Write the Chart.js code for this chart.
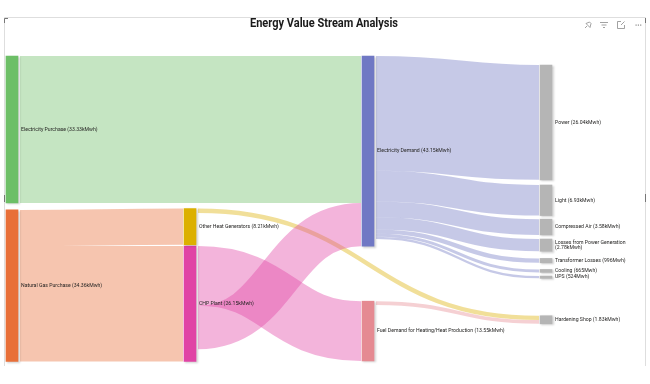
<!DOCTYPE html>
<html>
<head>
<meta charset="utf-8">
<title>Energy Value Stream Analysis</title>
<script src="https://cdn.jsdelivr.net/npm/chart.js@4"></script>
<style>
  html, body { margin: 0; padding: 0; background: #fff; }
  canvas { display: block; }
</style>
</head>
<body>
<canvas id="chart" width="650" height="384"></canvas>
<script>
const chartTitle = "Energy Value Stream Analysis";
const columns = ["Supply", "Conversion", "Demand", "End use"];

// nodes, values in kMWh
const nodeNames = ["Electricity Purchase", "Natural Gas Purchase", "Other Heat Generators", "CHP Plant",
  "Electricity Demand", "Fuel Demand for Heating/Heat Production", "Power", "Light", "Compressed Air",
  "Losses from Power Generation", "Transformer Losses", "Cooling", "UPS", "Hardening Shop"];
const nodeValues = [33.33, 34.36, 8.21, 26.15, 43.15, 13.55, 26.04, 6.93, 3.58, 2.78, 0.996, 0.665, 0.524, 1.83];
const nodeLabels = ["33.33kMwh", "34.36kMwh", "8.21kMwh", "26.15kMwh", "43.15kMwh", "13.55kMwh", "26.04kMwh",
  "6.93kMwh", "3.58kMwh", "2.78kMwh", "996Mwh", "665Mwh", "524Mwh", "1.83kMwh"];
const nodeColumns = [0, 0, 1, 1, 2, 2, 3, 3, 3, 3, 3, 3, 3, 3];

// links between nodes (index into the node lists)
const flowFrom = [0, 1, 1, 2, 3, 3, 4, 4, 4, 4, 4, 4, 4, 5];
const flowTo = [4, 2, 3, 13, 5, 4, 6, 7, 8, 9, 10, 11, 12, 13];
const flowValues = [33.33, 8.21, 26.15, 0.98, 13.55, 9.82, 26.04, 6.93, 3.58, 2.78, 0.996, 0.665, 0.524, 0.85];

const nodeStart = [0, 34.9, 34.6, 43.1, 0, 55.6, 2.04, 29.25, 37.0, 41.5, 45.9, 48.4, 49.9, 58.9];
const yMax = 69.16;

const nodeColors = ["#6dbf67", "#e86f38", "#dcb000", "#e043a5", "#7078c4", "#e58a92", "#b5b5b5", "#b5b5b5",
  "#b5b5b5", "#b5b5b5", "#b5b5b5", "#b5b5b5", "#b5b5b5", "#b5b5b5"];
const flowAlpha = 0.4;
const nodeWidth = 12;
const labelFont = "5.15px Roboto, sans-serif";

const datasets = nodeNames.map((name, i) => ({
  label: name,
  data: columns.map((c, col) => col === nodeColumns[i] ? [nodeStart[i], nodeStart[i] + nodeValues[i]] : null),
  backgroundColor: nodeColors[i],
  grouped: false,
  barThickness: nodeWidth,
  clip: false
}));

function hexAlpha(hex, a) {
  const n = parseInt(hex.slice(1), 16);
  return `rgba(${n >> 16},${(n >> 8) & 255},${n & 255},${a})`;
}

// ribbons between the nodes, one thick curve per link
function drawFlows(chart) {
  const { ctx, scales: { x, y } } = chart;
  const outUsed = nodeValues.map(() => 0);
  const inUsed = nodeValues.map(() => 0);
  flowValues.forEach((v, i) => {
    const a = flowFrom[i], b = flowTo[i];
    const x0 = x.getPixelForValue(nodeColumns[a]) + nodeWidth / 2 + 2;
    const x1 = x.getPixelForValue(nodeColumns[b]) - nodeWidth / 2 - 1;
    const mid = (x0 + x1) / 2;
    const y0 = y.getPixelForValue(nodeStart[a] + outUsed[a] + v / 2);
    const y1 = y.getPixelForValue(nodeStart[b] + inUsed[b] + v / 2);
    outUsed[a] += v;
    inUsed[b] += v;
    ctx.beginPath();
    ctx.moveTo(x0, y0);
    ctx.bezierCurveTo(mid, y0, mid, y1, x1, y1);
    ctx.lineWidth = Math.abs(y.getPixelForValue(v) - y.getPixelForValue(0));
    ctx.lineCap = "butt";
    ctx.strokeStyle = hexAlpha(nodeColors[a], flowAlpha);
    ctx.stroke();
  });
}

function drawFrame(ctx) {
  ctx.strokeStyle = "#dedede";
  ctx.lineWidth = 1;
  ctx.beginPath();
  ctx.moveTo(4.5, 366);
  ctx.lineTo(4.5, 17.5);
  ctx.lineTo(645.5, 17.5);
  ctx.lineTo(645.5, 366);
  ctx.stroke();
  ctx.strokeStyle = "#777";
  ctx.beginPath();
  ctx.moveTo(4.5, 23); ctx.lineTo(4.5, 18.5); ctx.lineTo(8, 18.5);
  ctx.moveTo(4.5, 195); ctx.lineTo(4.5, 202);
  ctx.moveTo(645.5, 194); ctx.lineTo(645.5, 202);
  ctx.moveTo(645.5, 18); ctx.lineTo(645.5, 23);
  ctx.stroke();
}

// visual header icons: pin, filter, focus, more
function drawIcons(ctx) {
  ctx.strokeStyle = "#8a8a8a";
  ctx.lineWidth = 0.8;
  ctx.beginPath();
  ctx.moveTo(585, 28); ctx.lineTo(587, 26);
  ctx.moveTo(586, 23.5); ctx.lineTo(590, 27.5); ctx.lineTo(591, 23.5); ctx.lineTo(589.5, 22); ctx.closePath();
  ctx.moveTo(600, 22.5); ctx.lineTo(608, 22.5);
  ctx.moveTo(601.5, 25); ctx.lineTo(606.5, 25);
  ctx.moveTo(603, 27.5); ctx.lineTo(605, 27.5);
  ctx.moveTo(621, 21.5); ctx.lineTo(617.5, 21.5); ctx.lineTo(617.5, 28.5); ctx.lineTo(624.5, 28.5); ctx.lineTo(624.5, 25);
  ctx.moveTo(621, 25); ctx.lineTo(624.5, 21.5);
  ctx.stroke();
  ctx.fillStyle = "#8a8a8a";
  [635.5, 637.8, 640.1].forEach(px => ctx.fillRect(px, 24.5, 1.2, 1.2));
}

const sankeyParts = {
  id: "sankeyParts",
  beforeDatasetsDraw(chart) {
    const { ctx } = chart;
    drawFrame(ctx);
    drawIcons(ctx);
    drawFlows(chart);
    // soft edge round the node bars
    ctx.save();
    ctx.shadowColor = "rgba(0,0,0,0.18)";
    ctx.shadowBlur = 2;
    ctx.shadowOffsetX = 1.5;
    ctx.shadowOffsetY = 1;
  },
  afterDatasetsDraw(chart) {
    const { ctx, scales: { x, y } } = chart;
    ctx.restore();
    ctx.fillStyle = "#252423";
    ctx.font = labelFont;
    ctx.textAlign = "left";
    ctx.textBaseline = "middle";
    nodeNames.forEach((name, i) => {
      const px = x.getPixelForValue(nodeColumns[i]) + nodeWidth / 2 + 3;
      const py = y.getPixelForValue(nodeStart[i] + nodeValues[i] / 2);
      const text = `${name} (${nodeLabels[i]})`;
      if (name.startsWith("Losses")) {
        ctx.fillText(name, px, py - 2.8);
        ctx.fillText(`(${nodeLabels[i]})`, px, py + 2.8);
      } else {
        ctx.fillText(text, px, py);
      }
    });
    ctx.fillStyle = "#1a1a1a";
    ctx.font = "bold 13.5px Roboto, sans-serif";
    ctx.textAlign = "center";
    ctx.fillText(chartTitle, 324, 24, 148);
  }
};

new Chart(document.getElementById("chart"), {
  type: "bar",
  data: { labels: columns, datasets },
  plugins: [sankeyParts],
  options: {
    responsive: false,
    animation: false,
    layout: { padding: { left: 12, right: 104, top: 56, bottom: 23 } },
    plugins: { legend: { display: false }, tooltip: { enabled: false } },
    scales: {
      x: { display: false, offset: false },
      y: { display: false, reverse: true, min: 0, max: yMax, beginAtZero: true }
    }
  }
});
</script>
</body>
</html>
